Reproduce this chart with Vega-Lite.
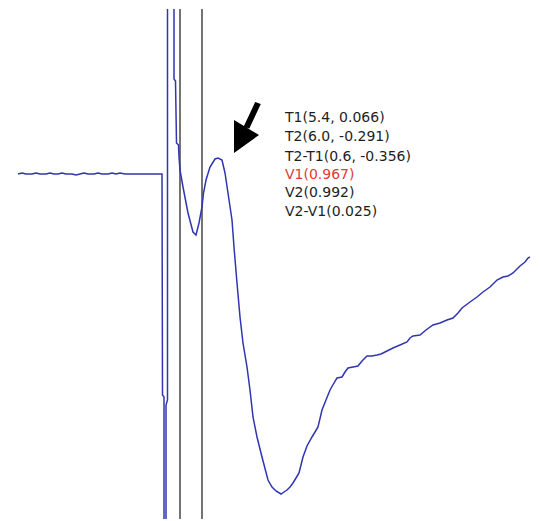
{
  "$schema": "https://vega.github.io/schema/vega-lite/v6.json",
  "width": 540,
  "height": 510,
  "autosize": {"type": "none"},
  "padding": {"left": 0, "right": 0, "top": 9, "bottom": 2},
  "background": "white",
  "config": {"view": {"stroke": null}},
  "layer": [
    {
      "data": {"values": [{"t": 180}, {"t": 202}]},
      "mark": {"type": "rule", "color": "#2a2a2a", "strokeWidth": 1.3},
      "encoding": {
        "x": {"field": "t", "type": "quantitative", "scale": {"domain": [0, 540], "nice": false, "zero": false}, "axis": null}
      }
    },
    {
      "data": {"values": [
        {"t": 18, "v": 174}, {"t": 22, "v": 173}, {"t": 26, "v": 174}, {"t": 32, "v": 174}, {"t": 36, "v": 173},
        {"t": 40, "v": 174}, {"t": 46, "v": 174}, {"t": 50, "v": 173}, {"t": 54, "v": 174}, {"t": 58, "v": 174},
        {"t": 62, "v": 173}, {"t": 66, "v": 174}, {"t": 72, "v": 174}, {"t": 76, "v": 175}, {"t": 80, "v": 174},
        {"t": 84, "v": 173}, {"t": 88, "v": 174}, {"t": 94, "v": 174}, {"t": 98, "v": 173}, {"t": 102, "v": 174},
        {"t": 108, "v": 174}, {"t": 112, "v": 173}, {"t": 116, "v": 174}, {"t": 120, "v": 173}, {"t": 125, "v": 174},
        {"t": 132, "v": 174}, {"t": 140, "v": 174}, {"t": 150, "v": 174}, {"t": 162, "v": 174},
        {"t": 162.5, "v": 395}, {"t": 164, "v": 397}, {"t": 164, "v": 600}, {"t": 166, "v": 600},
        {"t": 166, "v": 405}, {"t": 167.5, "v": 400}, {"t": 167.5, "v": -50}, {"t": 174, "v": -50},
        {"t": 174, "v": 79}, {"t": 175.5, "v": 81}, {"t": 176.5, "v": 143}, {"t": 178.5, "v": 145},
        {"t": 179, "v": 157}, {"t": 180, "v": 170}, {"t": 183, "v": 187}, {"t": 188, "v": 213},
        {"t": 193, "v": 232}, {"t": 196, "v": 235}, {"t": 199, "v": 223}, {"t": 202, "v": 207},
        {"t": 203.5, "v": 193}, {"t": 206, "v": 180}, {"t": 210, "v": 167}, {"t": 215, "v": 159},
        {"t": 218, "v": 158}, {"t": 222, "v": 160}, {"t": 225, "v": 173}, {"t": 228, "v": 193},
        {"t": 232, "v": 220}, {"t": 234, "v": 247}, {"t": 237, "v": 283}, {"t": 240, "v": 317},
        {"t": 243, "v": 343}, {"t": 247, "v": 367}, {"t": 250, "v": 390}, {"t": 253, "v": 417},
        {"t": 257, "v": 437}, {"t": 262, "v": 457}, {"t": 268, "v": 480}, {"t": 272, "v": 487},
        {"t": 276, "v": 491}, {"t": 281, "v": 494}, {"t": 284, "v": 492}, {"t": 287, "v": 490},
        {"t": 290, "v": 487}, {"t": 293, "v": 483}, {"t": 296, "v": 478}, {"t": 299, "v": 473},
        {"t": 303, "v": 457}, {"t": 307, "v": 446}, {"t": 312, "v": 437}, {"t": 315, "v": 432},
        {"t": 318, "v": 427}, {"t": 322, "v": 410}, {"t": 326, "v": 400}, {"t": 330, "v": 390},
        {"t": 334, "v": 383}, {"t": 337, "v": 378}, {"t": 342, "v": 377}, {"t": 345, "v": 372},
        {"t": 348, "v": 368}, {"t": 353, "v": 367}, {"t": 358, "v": 366}, {"t": 362, "v": 361},
        {"t": 367, "v": 356}, {"t": 372, "v": 356}, {"t": 377, "v": 355}, {"t": 381, "v": 354},
        {"t": 385, "v": 352}, {"t": 389, "v": 350}, {"t": 393, "v": 348}, {"t": 400, "v": 345},
        {"t": 407, "v": 342}, {"t": 410, "v": 338}, {"t": 413, "v": 336}, {"t": 420, "v": 335},
        {"t": 426, "v": 330}, {"t": 433, "v": 325}, {"t": 440, "v": 323}, {"t": 447, "v": 320},
        {"t": 453, "v": 318}, {"t": 458, "v": 313}, {"t": 462, "v": 308}, {"t": 470, "v": 302},
        {"t": 477, "v": 297}, {"t": 483, "v": 292}, {"t": 490, "v": 287}, {"t": 497, "v": 280},
        {"t": 503, "v": 277}, {"t": 508, "v": 276}, {"t": 513, "v": 273}, {"t": 520, "v": 266},
        {"t": 525, "v": 262}, {"t": 528, "v": 258}, {"t": 530, "v": 257}
      ]},
      "mark": {"type": "line", "color": "#3035b0", "strokeWidth": 1.5, "clip": true},
      "encoding": {
        "x": {"field": "t", "type": "quantitative", "scale": {"domain": [0, 540], "nice": false, "zero": false}, "axis": null},
        "y": {"field": "v", "type": "quantitative", "scale": {"domain": [9, 519], "nice": false, "zero": false, "reverse": true}, "axis": null},
        "order": {"value": null}
      }
    },
    {
      "data": {"values": [
        {"k": "T1", "label": "T1(5.4, 0.066)", "t": 285, "v": 122},
        {"k": "T2", "label": "T2(6.0, -0.291)", "t": 285, "v": 141},
        {"k": "T2-T1", "label": "T2-T1(0.6, -0.356)", "t": 285, "v": 160.5},
        {"k": "V1", "label": "V1(0.967)", "t": 285, "v": 178.5},
        {"k": "V2", "label": "V2(0.992)", "t": 285, "v": 197},
        {"k": "V2-V1", "label": "V2-V1(0.025)", "t": 285, "v": 216}
      ]},
      "mark": {"type": "text", "align": "left", "baseline": "alphabetic", "font": "DejaVu Sans", "fontSize": 14},
      "encoding": {
        "x": {"field": "t", "type": "quantitative", "scale": {"domain": [0, 540], "nice": false, "zero": false}, "axis": null},
        "y": {"field": "v", "type": "quantitative", "scale": {"domain": [9, 519], "nice": false, "zero": false, "reverse": true}, "axis": null},
        "text": {"field": "label"},
        "color": {"condition": {"test": "datum.k === 'V1'", "value": "#e03a3a"}, "value": "#1e1e1e"}
      }
    },
    {
      "data": {"values": [{"t": 246, "v": 135}]},
      "mark": {"type": "point", "filled": true, "color": "#000000", "opacity": 1, "strokeWidth": 0, "size": 1600,
        "shape": "M0.74,-1.545L0.46,-1.655L-0.115,-0.43L0.165,-0.32Z M-0.6,-0.75L-0.6,0.9L0.65,0Z"},
      "encoding": {
        "x": {"field": "t", "type": "quantitative", "scale": {"domain": [0, 540], "nice": false, "zero": false}, "axis": null},
        "y": {"field": "v", "type": "quantitative", "scale": {"domain": [9, 519], "nice": false, "zero": false, "reverse": true}, "axis": null}
      }
    }
  ]
}
